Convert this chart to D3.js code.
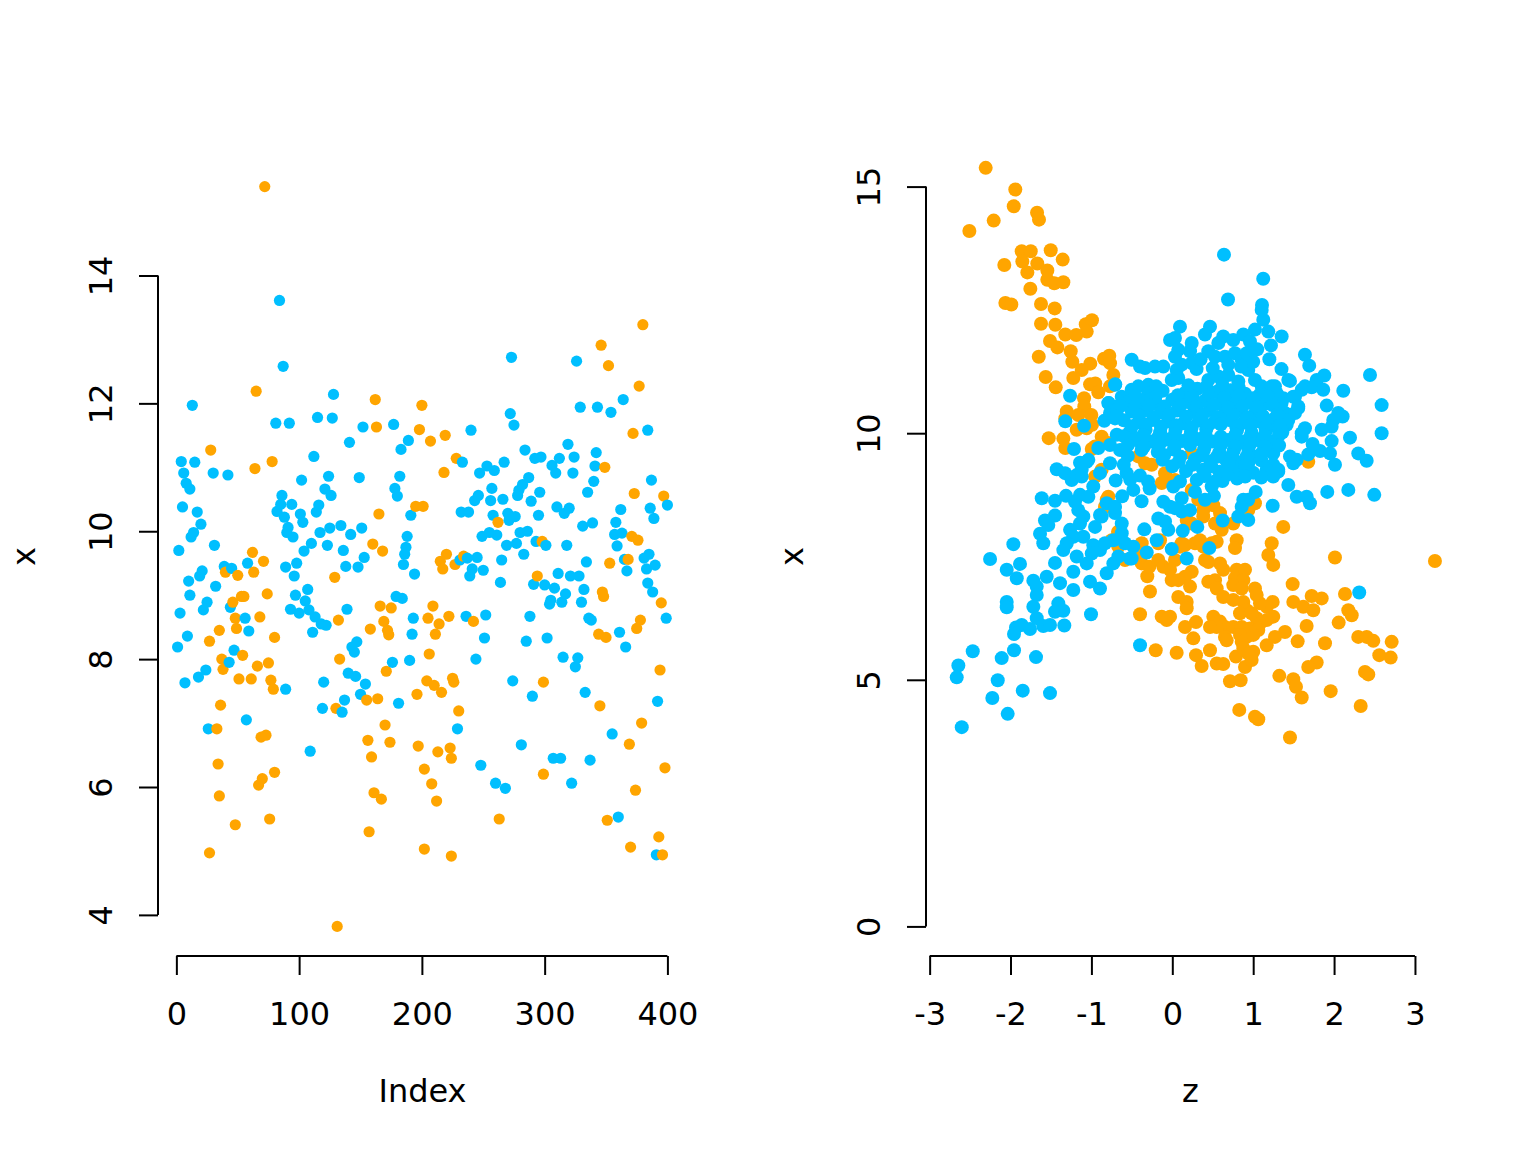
<!DOCTYPE html>
<html>
<head>
<meta charset="utf-8">
<script src="https://cdn.jsdelivr.net/npm/d3@7"></script>
<style>
  body { margin: 0; background: #fff; }
  svg text { font-family: "DejaVu Sans", sans-serif; font-size: 32px; fill: #000; }
</style>
</head>
<body>
<svg id="chart" width="1536" height="1152"></svg>
<script>
// left panel: [index, x]
const leftOrange = [
  [72,15.39],[65,12.19],[28,11.27],[64,10.98],[78,11.09],[62,9.67],[71,9.53],[40,9.36],[50,9.31],[63,9.36],
  [53,8.98],[55,8.98],[46,8.89],[74,9.02],[48,8.64],[49,8.48],[68,8.66],[35,8.45],[80,8.34],[27,8.28],
  [54,8.06],[37,8.00],[38,7.84],[66,7.89],[75,7.94],[51,7.69],[61,7.69],[77,7.67],[79,7.53],[36,7.28],
  [33,6.91],[69,6.78],[73,6.81],[34,6.36],[80,6.23],[70,6.13],[67,6.03],[35,5.86],[76,5.50],[48,5.41],[27,4.97],
  [162,12.06],[163,11.63],[195,10.39],[165,10.27],[160,9.80],[168,9.69],[129,9.28],[166,8.83],[175,8.80],[169,8.59],
  [172,8.45],[173,8.38],[132,8.61],[158,8.47],[133,8.00],[171,7.81],[130,7.23],[155,7.36],[164,7.38],[170,6.97],
  [156,6.73],[174,6.70],[159,6.47],[161,5.91],[167,5.81],[157,5.30],[131,3.82],
  [200,11.97],[198,11.59],[207,11.41],[219,11.50],[228,11.14],[218,10.92],[201,10.39],[262,10.14],[298,9.84],[220,9.64],
  [215,9.53],[217,9.41],[227,9.48],[234,9.61],[294,9.30],[209,8.83],[205,8.64],[214,8.55],[222,8.67],[211,8.39],
  [242,8.59],[206,8.08],[204,7.66],[210,7.59],[216,7.48],[196,7.45],[225,7.70],[226,7.64],[299,7.64],[230,7.19],
  [197,6.64],[213,6.55],[223,6.61],[224,6.45],[202,6.28],[208,6.05],[212,5.78],[299,6.20],[263,5.50],[202,5.03],[224,4.92],
  [380,13.23],[346,12.91],[352,12.59],[377,12.27],[372,11.53],[349,11.00],[373,10.59],[397,10.55],[371,9.92],[376,9.86],
  [368,9.56],[353,9.50],[347,9.05],[348,8.98],[395,8.88],[378,8.61],[375,8.48],[344,8.39],[350,8.34],[394,7.83],
  [345,7.27],[379,7.00],[369,6.67],[398,6.30],[374,5.95],[351,5.48],[393,5.22],[370,5.06],[396,4.94]
];
const leftBlue = [
  [84,13.61],[87,12.58],[13,11.97],[81,11.69],[92,11.69],[4,11.09],[15,11.08],[6,10.91],[30,10.91],[42,10.88],
  [8,10.75],[11,10.66],[86,10.56],[85,10.42],[94,10.42],[5,10.38],[82,10.31],[88,10.22],[17,10.30],[20,10.11],
  [91,10.06],[90,9.98],[95,9.91],[14,9.98],[12,9.91],[2,9.70],[31,9.78],[39,9.45],[45,9.42],[58,9.50],
  [21,9.38],[19,9.30],[10,9.22],[32,9.14],[89,9.44],[96,9.30],[11,9.00],[25,8.89],[22,8.77],[44,8.81],
  [93,8.78],[97,9.00],[3,8.72],[56,8.64],[59,8.44],[9,8.36],[1,8.19],[47,8.14],[43,7.95],[24,7.83],
  [18,7.72],[7,7.63],[89,7.53],[57,7.05],[26,6.91],
  [128,12.14],[115,11.78],[127,11.77],[152,11.63],[177,11.67],[141,11.39],[189,11.42],[183,11.28],[112,11.17],[102,10.80],
  [124,10.86],[149,10.84],[182,10.86],[121,10.66],[126,10.56],[178,10.67],[180,10.55],[116,10.41],[114,10.30],[101,10.27],
  [103,10.14],[191,10.25],[134,10.09],[125,10.05],[117,9.98],[151,10.05],[142,9.95],[110,9.81],[123,9.78],[104,9.69],
  [136,9.70],[188,9.92],[187,9.75],[186,9.64],[185,9.48],[153,9.59],[138,9.45],[148,9.44],[98,9.50],[194,9.33],
  [107,9.09],[105,8.91],[100,8.72],[108,8.77],[113,8.66],[118,8.55],[122,8.53],[111,8.42],[139,8.78],[179,8.98],
  [184,8.95],[193,8.64],[192,8.39],[147,8.27],[143,8.19],[145,8.11],[176,7.95],[190,7.98],[140,7.78],[146,7.73],
  [154,7.61],[150,7.45],[120,7.64],[137,7.36],[135,7.17],[119,7.23],[181,7.31],[109,6.56],
  [273,12.72],[240,11.58],[272,11.84],[275,11.66],[284,11.27],[292,11.14],[297,11.16],[233,11.08],[247,10.91],[253,11.02],
  [259,10.95],[267,11.08],[287,10.84],[282,10.73],[279,10.64],[278,10.56],[296,10.61],[257,10.67],[256,10.48],[243,10.48],
  [246,10.56],[266,10.50],[289,10.47],[232,10.30],[238,10.30],[258,10.25],[270,10.28],[276,10.23],[271,10.17],[295,10.25],
  [249,9.92],[255,9.98],[261,9.94],[280,9.98],[286,10.00],[269,9.78],[277,9.81],[293,9.84],[301,9.78],[283,9.64],
  [231,9.55],[237,9.58],[245,9.59],[241,9.41],[239,9.30],[250,9.39],[265,9.55],[264,9.20],[291,9.17],[300,9.16],
  [236,8.67],[252,8.69],[288,8.67],[251,8.33],[285,8.28],[302,8.33],[244,8.00],[274,7.66],[290,7.42],[229,6.91],
  [281,6.66],[248,6.34],[260,6.06],[268,5.98],
  [326,12.66],[364,12.06],[329,11.94],[343,11.94],[354,11.86],[384,11.58],[319,11.36],[342,11.23],[306,11.03],[309,10.91],
  [312,11.14],[324,11.16],[323,10.91],[341,11.02],[340,10.78],[335,10.61],[387,10.80],[400,10.41],[386,10.36],[389,10.20],
  [310,10.38],[316,10.28],[320,10.36],[362,10.34],[331,10.08],[339,10.13],[358,10.14],[357,9.95],[363,9.97],[359,9.77],
  [318,9.78],[365,9.56],[367,9.38],[381,9.58],[385,9.64],[383,9.41],[390,9.47],[334,9.52],[311,9.34],[321,9.30],
  [328,9.30],[308,9.11],[332,9.09],[317,9.02],[314,8.89],[305,8.92],[304,8.86],[330,8.89],[384,9.19],[388,9.05],
  [399,8.64],[336,8.64],[338,8.61],[361,8.42],[366,8.19],[315,8.03],[327,8.02],[325,7.88],[333,7.48],[392,7.34],
  [355,6.83],[307,6.45],[313,6.45],[337,6.42],[322,6.06],[360,5.53],[391,4.94]
];

// right panel: [z, x]
const rightOrange = [
  [-2.307,15.38],[-1.941,14.94],[-1.960,14.60],[-1.672,14.47],[-1.648,14.33],[-2.208,14.31],[-2.509,14.10],[-1.862,13.69],
  [-1.750,13.69],[-1.503,13.71],[-1.355,13.52],[-2.077,13.41],[-1.854,13.48],[-1.669,13.44],[-1.792,13.26],[-1.545,13.30],
  [-1.545,13.11],[-1.459,13.04],[-1.347,13.06],[-1.755,12.93],[-2.064,12.64],[-1.990,12.61],[-1.623,12.62],[-1.454,12.53],
  [-1.623,12.22],[-1.446,12.20],[-1.323,12.00],[-1.187,11.99],[-1.070,12.21],[-0.993,12.29],[-1.058,12.06],[-1.512,11.87],
  [-1.421,11.74],[-1.256,11.66],[-1.236,11.45],[-1.651,11.55],[-1.014,11.41],[-1.120,11.28],[-0.844,11.51],[-0.779,11.57],
  [-0.770,11.42],[-1.565,11.14],[-1.441,10.93],[-1.224,11.12],[-1.017,10.99],[-0.952,11.01],[-0.915,10.83],[-0.729,11.18],
  [-0.770,10.95],[-1.091,10.71],[-1.088,10.54],[-1.162,10.37],[-1.305,10.44],[-1.323,10.30],[-1.001,10.37],[-0.993,10.17],
  [-1.528,9.90],[-1.347,9.89],[-1.182,10.07],[-1.058,10.10],[-1.323,9.70],[-0.996,9.68],
  [-0.873,9.93],[-0.791,9.80],[-0.955,9.73],[-0.420,9.53],[-0.337,9.39],[-0.255,9.36],[0.240,9.59],[-0.090,9.19],
  [-0.049,9.05],[-0.131,8.99],[0.033,9.05],[-0.873,9.26],[-0.955,9.12],[0.240,8.85],[0.321,8.65],[0.383,8.44],
  [0.528,8.17],[0.611,8.04],[0.240,8.17],[0.487,7.77],[0.281,7.77],[0.116,7.77],[0.033,7.43],[-0.173,7.77],
  [-0.378,7.77],[-0.378,7.36],[-0.585,7.43],[1.022,8.58],[0.939,8.44],[-0.749,7.83],[-0.667,7.70],[-0.832,8.51],
  [-0.791,8.71],[-0.811,8.65],[-0.671,8.00],[-0.440,7.70],[-0.399,6.33],[-0.440,7.50],[1.681,9.42],
  [3.247,7.41],[1.372,8.10],[1.229,7.77],[1.187,7.53],[1.248,7.33],[2.011,7.48],[0.796,7.83],[0.775,7.67],
  [0.754,8.17],[1.488,6.94],[1.723,6.70],[1.847,6.65],[2.135,6.74],[1.496,6.58],[1.619,6.48],[1.743,6.41],
  [2.176,6.41],[2.218,6.31],[2.057,6.16],[1.661,6.09],[1.241,6.58],[1.167,6.48],[1.084,6.55],[1.248,6.28],
  [1.167,6.21],[1.043,6.25],[1.393,5.97],[1.269,5.87],[1.167,5.70],[1.550,5.78],[1.888,5.74],[2.299,5.87],
  [2.403,5.87],[2.485,5.79],[2.712,5.77],[2.700,5.45],[2.559,5.50],[1.785,5.35],[1.681,5.26],[1.323,5.08],
  [1.496,5.01],[1.529,4.86],[1.600,4.64],[1.958,4.77],[2.382,5.16],[2.423,5.11],[2.329,4.47],[0.828,4.39],
  [1.022,4.25],[1.063,4.20],[1.455,3.83],[0.713,4.97],[0.845,4.99],[0.363,5.28],[0.293,5.50],[0.466,5.60],
  [0.549,5.33],[0.630,5.32],[0.787,5.47],[0.899,5.26],[0.981,5.40],[1.001,5.57],[0.054,5.55],[-0.205,5.60],
  [0.260,5.84],[0.157,6.07],[0.293,6.17],[-0.131,6.28],[-0.028,6.28],[-0.069,6.21],[-0.276,6.79],[-0.309,7.10],
  [-0.284,7.29],[0.074,6.68],[0.178,6.58],[0.178,6.45],[0.219,6.89],[0.240,7.19],[0.157,7.09],[0.074,7.02],
  [-0.007,7.02],[0.528,7.02],[0.445,6.99],[0.549,6.85],[0.630,7.23],[0.590,7.36],[0.796,7.23],[0.899,7.23],
  [0.775,7.06],[0.878,7.02],[0.754,6.92],[0.858,6.85],[1.022,6.85],[1.043,6.72],[0.630,6.68],[0.754,6.62],
  [0.878,6.58],[0.920,6.41],[0.837,6.35],[0.981,6.35],[0.507,6.28],[0.590,6.18],[0.651,6.07],[0.549,6.07],
  [0.466,6.07],[0.754,6.07],[0.858,6.07],[0.960,6.04],[1.084,6.14],[1.063,6.01],[1.001,5.91],[0.920,5.87],
  [0.837,5.91],[0.651,5.87],[0.672,5.80],[0.858,5.77],[0.878,5.64],[0.939,5.53],[0.404,7.43],[0.445,7.39],
  [0.549,7.80],[-0.173,7.43],[-0.111,7.29],[-0.028,7.23],[0.342,7.83],[0.383,7.70],[0.095,7.70],[0.157,7.73],
  [-0.152,7.83],[0.178,8.24],[0.383,8.31],[0.507,8.54],[0.590,8.38]
];
const rightBlue = [
  [-1.264,10.76],[-0.705,10.99],[-1.323,10.24],[-1.091,10.15],[-0.786,10.61],[-0.687,10.54],[-0.841,10.25],[-0.708,10.30],
  [-1.215,9.68],[-0.915,9.70],[-0.770,9.76],[-0.687,9.97],
  [-1.429,9.27],[-1.326,9.19],[-1.141,9.40],[-1.058,9.42],[-1.244,9.05],[-1.182,9.15],[-1.614,8.68],[-1.450,8.63],
  [-1.314,8.73],[-1.203,8.61],[-1.141,8.75],[-1.450,8.33],[-1.574,8.23],[-1.533,8.14],[-1.635,7.96],[-1.595,7.77],
  [-1.965,7.75],[-2.253,7.45],[-1.883,7.35],[-2.047,7.23],[-1.923,7.06],[-1.718,7.01],[-1.676,6.89],[-1.553,7.09],
  [-1.450,7.37],[-1.388,6.96],[-1.224,6.82],[-2.047,6.58],[-2.047,6.47],[-1.676,6.72],[-1.718,6.48],[-1.409,6.55],
  [-1.450,6.38],[-1.347,6.40],[-1.005,6.33],[-1.932,6.06],[-1.957,5.93],[-1.862,6.11],[-1.759,6.03],[-1.676,6.25],
  [-1.595,6.09],[-1.512,6.11],[-1.335,6.10],[-2.467,5.58],[-2.109,5.44],[-1.957,5.60],[-1.685,5.46],[-2.645,5.29],
  [-2.665,5.05],[-2.158,4.99],[-2.225,4.63],[-1.849,4.78],[-1.512,4.73],[-2.035,4.31],[-2.603,4.04],[-0.399,5.70],
  [-1.100,8.31],[-1.141,8.17],[-1.264,8.04],[-1.224,7.90],[-1.305,7.77],[-1.347,7.63],[-1.100,7.90],[-0.977,7.73],
  [-0.894,7.63],[-1.182,7.50],[-1.224,7.19],[-1.058,7.36],[-1.017,6.99],[-0.894,6.85],[-0.811,7.16],[-0.729,7.36],
  [-0.729,7.83],[-0.625,7.97],[-0.523,7.46],[-0.482,7.70],[-0.894,8.34],[-0.811,8.58],[-0.708,8.38],[-0.625,8.17],
  [-0.977,8.92],[-0.894,9.19],[-0.770,9.39],[-0.646,9.66],[-0.564,9.19],[-0.482,8.85],
  [1.229,9.19],[1.310,9.22],[1.434,8.95],[1.538,8.71],[1.661,8.71],[1.702,8.58],[1.916,8.81],[2.176,8.85],
  [2.497,8.75],[1.241,8.53],[1.031,8.81],[0.878,8.65],[0.939,8.24],[0.816,8.31],[0.623,8.23],[2.311,6.77],
  [0.457,7.67],[0.309,8.10],[0.178,7.46],[-0.007,7.65],[-0.193,7.83],[-0.316,7.58],[-0.502,7.46],[0.129,8.02],
  [-0.049,8.04],[-0.346,8.05],[0.515,8.73],[0.404,8.65],[0.219,8.44],[0.116,8.41],[-0.028,8.51],[-0.111,8.61],
  [0.012,8.92],[0.095,9.02],[0.302,9.05],[0.528,9.02],[0.672,9.26],
  [1.640,11.59],[1.693,11.37],[1.455,11.06],[1.879,11.17],[1.785,11.08],[2.444,11.18],[1.269,10.95],[1.269,10.71],
  [1.372,10.71],[1.310,10.51],[1.393,10.41],[1.414,10.17],[1.290,10.13],[1.640,10.95],[1.723,10.93],[1.866,10.88],
  [1.517,10.74],[1.557,10.51],[2.114,10.86],[2.588,10.57],[1.909,10.56],[2.052,10.41],[2.106,10.34],[1.990,10.27],
  [1.970,10.13],[1.640,10.10],[1.600,10.00],[1.847,10.07],[2.197,9.91],[2.588,10.00],[1.970,9.84],[1.735,9.78],
  [1.681,9.57],[1.826,9.64],[1.949,9.59],[2.299,9.59],[2.403,9.44],[2.011,9.36],[1.455,9.53],[1.538,9.46],
  [1.496,9.39],[1.248,9.59],[1.248,9.36],[1.310,9.26],[1.248,9.12],
  [0.095,12.16],[0.033,11.93],[-0.028,11.89],[0.466,12.16],[0.404,12.00],[0.630,11.96],[0.569,11.83],[0.754,11.89],
  [0.878,12.00],[0.960,11.86],[1.022,12.10],[1.125,12.30],[1.187,12.06],[1.352,11.96],[1.105,12.50],[0.240,11.83],
  [0.219,11.66],[0.074,11.69],[0.033,11.55],[0.116,11.39],[0.240,11.42],[0.445,11.66],[0.528,11.55],[0.651,11.55],
  [0.692,11.39],[0.775,11.62],[0.858,11.49],[0.920,11.62],[-0.502,11.49],[-0.399,11.35],[-0.337,11.32],[-0.214,11.35],
  [-0.111,11.35],[0.054,11.28],[0.074,11.12],[-0.007,11.08],[0.445,11.08],[0.569,11.15],[0.692,11.18],[0.816,11.05],
  [0.939,11.28],[1.022,11.08],[1.105,10.95],[1.229,10.95],[1.290,10.81],[1.434,11.08],[1.496,10.74],[1.600,10.88],
  [-0.708,10.98],[-0.791,10.61],[-0.625,10.74],[-0.502,10.88],[-0.420,10.95],[-0.297,10.98],[-0.770,10.41],[-0.687,10.47],
  [-1.038,9.46],[-1.120,9.26],[1.352,10.20],[1.434,10.27],[1.517,10.41],[1.557,10.54],[1.600,9.93],[1.248,9.66],
  [1.167,9.26],[1.229,9.15],[1.043,9.53],[0.939,9.39],[0.858,9.29],[0.939,8.65],[0.858,8.51],[0.487,8.92],
  [0.281,8.81],[0.116,8.68],[0.033,8.48],[-0.090,8.21],[-0.173,8.27],[-0.585,7.77],[-1.120,9.12],[-1.162,8.44],
  [-1.038,8.71],[-0.873,8.31],[-0.708,8.51],[-0.955,8.10],[-0.832,7.77],[-0.996,7.56],[-0.667,7.50],
  [0.639,13.62],[0.689,12.71],[1.124,13.13],[1.109,12.60],
  [-0.12,10.86],[0.16,10.82],[0.31,10.90],[0.55,10.84],[0.72,10.87],[0.90,10.80],[1.08,10.78],[-0.30,10.80],
  [-0.55,10.62],[-0.38,10.66],[-0.20,10.60],[0.00,10.68],[0.20,10.63],[0.40,10.66],[0.58,10.60],[0.78,10.64],
  [0.96,10.62],[1.15,10.60],[1.35,10.60],[-0.50,10.44],[-0.32,10.47],[-0.14,10.42],[0.06,10.46],[0.27,10.43],
  [0.46,10.47],[0.66,10.42],[0.84,10.45],[1.02,10.40],[-0.60,10.26],[-0.42,10.22],[-0.24,10.27],[-0.05,10.24],
  [0.14,10.20],[0.33,10.26],[0.52,10.23],[0.70,10.27],[0.88,10.21],[1.06,10.24],[1.25,10.28],[-0.52,10.04],
  [-0.33,10.07],[-0.15,10.02],[0.04,10.06],[0.23,10.03],[0.42,10.08],[0.80,10.06],[0.98,10.01],[1.16,10.05],
  [1.36,10.02],[-0.45,9.86],[-0.26,9.83],[-0.07,9.87],[0.12,9.84],[0.31,9.88],[0.50,9.83],[0.69,9.86],
  [0.87,9.82],[1.05,9.86],[1.24,9.83],[-0.38,9.66],[-0.18,9.62],[0.02,9.67],[0.39,9.66],[0.58,9.61],
  [0.76,9.65],[0.94,9.68],[1.12,9.63],[-0.12,9.46],[0.08,9.42],[0.28,9.47],[0.47,9.43],[0.66,9.46],
  [0.84,9.41],[1.10,9.45],[0.17,9.23],[0.38,9.26],[0.58,9.22],[0.82,9.24],[1.00,9.20],[-0.70,9.04],
  [-0.52,9.06],[-0.30,9.02],[0.62,9.03],[0.80,9.08],
  [-0.20,10.95],[0.20,10.97],[0.42,10.94],[0.62,10.98],[0.82,10.93],
  [-0.46,10.75],[-0.21,10.73],[0.07,10.77],[0.25,10.74],[0.45,10.76],[0.64,10.72],[0.82,10.76],[1.00,10.71],[1.18,10.75],
  [-0.64,10.55],[-0.46,10.53],[-0.29,10.57],[-0.10,10.54],[0.10,10.56],[0.30,10.53],[0.50,10.57],[0.69,10.52],
  [0.87,10.55],[1.05,10.53],[1.24,10.57],
  [-0.68,10.34],[-0.41,10.36],[-0.23,10.33],[-0.04,10.37],[0.17,10.34],[0.37,10.36],[0.56,10.33],[0.75,10.37],
  [0.93,10.32],[1.12,10.35],[1.30,10.38],
  [-0.50,10.14],[-0.33,10.17],[-0.14,10.13],[0.05,10.16],[0.24,10.12],[0.44,10.15],[0.60,10.18],[0.79,10.13],
  [0.97,10.16],[1.15,10.12],[1.33,10.16],
  [-0.60,9.94],[-0.36,9.96],[-0.17,9.93],[0.03,9.97],[0.22,9.94],[0.41,9.96],[0.60,9.93],[0.78,9.97],
  [0.96,9.92],[1.14,9.95],[1.32,9.96],
  [-0.55,9.76],[-0.35,9.73],[-0.16,9.77],[0.03,9.74],[0.22,9.76],[0.40,9.72],[0.60,9.76],[0.78,9.74],
  [0.96,9.77],[1.14,9.73],[1.32,9.75],
  [-0.55,9.54],[-0.10,9.56],[0.10,9.53],[0.36,9.55],[0.55,9.52],[0.74,9.56],[0.92,9.53],[1.10,9.57],
  [-0.60,9.36],[0.00,9.33],[0.25,9.36],[0.48,9.33],[0.70,9.37],[0.90,9.34],
  [-0.40,9.14],[0.40,9.13],[0.68,9.16],[0.90,9.12],[1.10,9.10],
  [-0.62,8.72],[-0.38,8.62],[-0.28,8.88],
  [0.30,11.30],[0.50,11.32],[0.85,11.35],[1.00,11.45],[1.20,11.50],[1.35,11.30],[0.35,11.50],[1.05,11.70],[1.22,11.78]
];

const indexTicks = [0, 100, 200, 300, 400];
const leftYTicks = [4, 6, 8, 10, 12, 14];
const zTicks = [-3, -2, -1, 0, 1, 2, 3];
const rightYTicks = [0, 5, 10, 15];

const orange = "#FFA500";
const blue = "#00BFFF";

const svg = d3.select("#chart");

// plot regions, same size for both panels (like par(mfrow=c(1,2)))
const plotTop = 157, plotBottom = 956;
const fmt = d => String(d);  // plain "-3", not a unicode minus

function drawPanel(p) {
  const x = d3.scaleLinear().domain(p.xDomain).range([p.left, p.right]);
  const y = d3.scaleLinear().domain(p.yDomain).range([plotBottom, plotTop]);

  // points
  svg.append("g")
    .selectAll("circle")
    .data(p.points)
    .enter().append("circle")
    .attr("cx", d => x(d[0]))
    .attr("cy", d => y(d[1]))
    .attr("r", p.r)
    .attr("fill", d => d[2]);

  // x axis
  const gx = svg.append("g")
    .attr("transform", `translate(0,${plotBottom})`)
    .call(d3.axisBottom(x).tickValues(p.xTicks).tickFormat(fmt).tickSize(19).tickSizeOuter(0));
  gx.select(".domain").remove();
  gx.selectAll("line").attr("stroke", "#000").attr("stroke-width", 2);
  gx.selectAll("text")
    .attr("y", 69).attr("dy", null)
    .attr("fill", "#000")
    .style("font-size", "32px")
    .style("font-family", "'DejaVu Sans', sans-serif");
  gx.append("line")
    .attr("x1", x(p.xTicks[0])).attr("x2", x(p.xTicks[p.xTicks.length - 1]))
    .attr("stroke", "#000").attr("stroke-width", 2);

  // y axis
  const gy = svg.append("g")
    .attr("transform", `translate(${p.left},0)`)
    .call(d3.axisLeft(y).tickValues(p.yTicks).tickFormat(fmt).tickSize(19).tickSizeOuter(0));
  gy.select(".domain").remove();
  gy.selectAll("line").attr("stroke", "#000").attr("stroke-width", 2);
  gy.selectAll("text")
    .attr("x", null).attr("dy", null)
    .attr("transform", "translate(-46,0) rotate(-90)")
    .attr("text-anchor", "middle")
    .attr("fill", "#000")
    .style("font-size", "32px")
    .style("font-family", "'DejaVu Sans', sans-serif");
  gy.append("line")
    .attr("y1", y(p.yTicks[0])).attr("y2", y(p.yTicks[p.yTicks.length - 1]))
    .attr("stroke", "#000").attr("stroke-width", 2);

  // axis titles
  svg.append("text")
    .attr("x", (p.left + p.right) / 2).attr("y", 1102)
    .attr("text-anchor", "middle")
    .text(p.xLabel);
  svg.append("text")
    .attr("transform", `translate(${p.left - 123},${(plotTop + plotBottom) / 2}) rotate(-90)`)
    .attr("text-anchor", "middle")
    .text(p.yLabel);
}

// left: plot(x) -- points drawn in index order
const leftPoints = leftOrange.map(d => [d[0], d[1], orange])
  .concat(leftBlue.map(d => [d[0], d[1], blue]))
  .sort((a, b) => a[0] - b[0]);

drawPanel({
  left: 158, right: 687,
  xDomain: [-14.96, 415.96], yDomain: [3.357, 15.853],
  xTicks: indexTicks, yTicks: leftYTicks,
  points: leftPoints, r: 5.6,
  xLabel: "Index", yLabel: "x"
});

// right: plot(z, x)
const rightPoints = rightOrange.map(d => [d[0], d[1], orange])
  .concat(rightBlue.map(d => [d[0], d[1], blue]));

drawPanel({
  left: 926, right: 1455,
  xDomain: [-3.045, 3.495], yDomain: [-0.6, 15.6],
  xTicks: zTicks, yTicks: rightYTicks,
  points: rightPoints, r: 7,
  xLabel: "z", yLabel: "x"
});
</script>
</body>
</html>
